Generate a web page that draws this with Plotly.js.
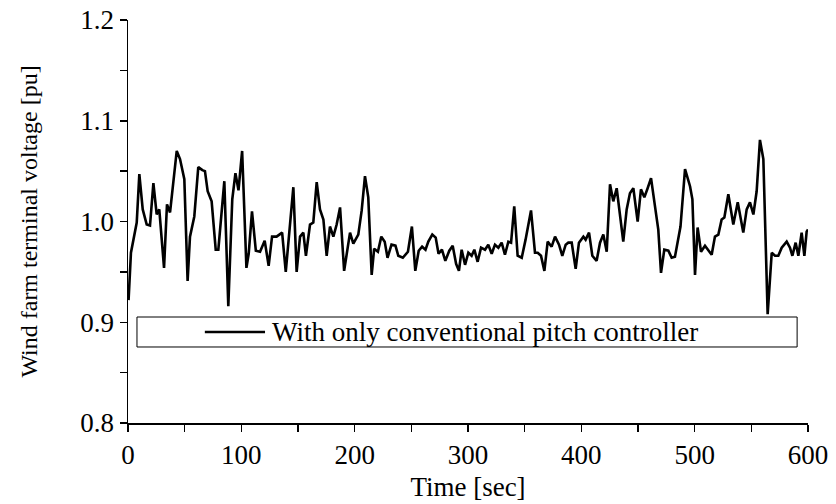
<!DOCTYPE html>
<html>
<head>
<meta charset="utf-8">
<script src="https://cdn.plot.ly/plotly-3.0.1.min.js"></script>
<style>html,body{margin:0;padding:0;background:#fff}#chart{width:836px;height:504px}</style>
</head>
<body>
<div id="chart"></div>
<script>
const timeSec = [0.5, 2.6, 7.7, 10, 13, 16.5, 19.4, 22.4, 25.3, 27.6, 31.8, 34.4, 37.1, 43, 45.9, 49.7, 52.6, 54.7, 58.5, 62, 65.6, 67.9, 70.3, 73.8, 77.4, 79.7, 85, 88.5, 92, 94.8, 97.5, 100.7, 104.5, 106.5, 109.4, 112.8, 116.5, 120.6, 124.1, 127.1, 131.1, 136, 139.2, 142.1, 145.9, 148.8, 151.8, 154.7, 157, 160.6, 163.5, 166.5, 169.4, 172.4, 175.3, 178.2, 181.2, 184.1, 187.1, 190.7, 193.2, 195.9, 198.8, 203.2, 206.2, 209.1, 212, 215, 217.2, 220.5, 223.5, 226.5, 229, 232.5, 236, 238.5, 242.5, 247, 250.5, 253.5, 256.5, 259.5, 262.5, 265, 268.5, 271.5, 274, 277, 280, 283.5, 286.5, 289.5, 292, 294.4, 297.4, 300.3, 303.2, 305.6, 308.5, 311.5, 315, 317.9, 320.9, 323.8, 326.8, 329.7, 332.6, 335.6, 338, 340.8, 343.8, 347.4, 350.8, 355.6, 359.1, 361.5, 364.4, 367.4, 370.3, 373.8, 376.8, 380.3, 383.2, 386.2, 388.5, 391.5, 395, 397.9, 401.8, 403.8, 406.8, 409.7, 413.5, 416.5, 419.4, 422.4, 425.3, 428.2, 431.2, 434.1, 437, 440, 442.9, 445.9, 449.7, 452.6, 455.6, 458.5, 461.5, 465, 467.9, 470.3, 473.2, 476.8, 479.7, 482.6, 485.6, 487.5, 491.5, 495.9, 498, 500.3, 502.6, 505.6, 509.1, 512, 515, 517.9, 520.9, 523.8, 526.2, 529.7, 532.1, 534.1, 538, 540.9, 542.9, 545.9, 548.8, 551.8, 554.7, 557.6, 560.6, 564.4, 568, 570.9, 573.8, 576.8, 581.2, 584.1, 586.2, 589.1, 591.5, 594.4, 596.8, 598.8, 600];
const voltagePu = [0.922, 0.969, 0.999, 1.047, 1.012, 0.997, 0.996, 1.038, 1.007, 1.012, 0.954, 1.017, 1.009, 1.070, 1.062, 1.042, 0.941, 0.985, 1.005, 1.054, 1.051, 1.050, 1.030, 1.020, 0.972, 0.972, 1.040, 0.916, 1.022, 1.048, 1.031, 1.070, 0.954, 0.968, 1.010, 0.971, 0.970, 0.981, 0.956, 0.985, 0.985, 0.989, 0.950, 0.985, 1.034, 0.950, 0.985, 0.989, 0.966, 0.997, 0.999, 1.039, 1.012, 1.002, 0.966, 0.995, 0.985, 0.997, 1.014, 0.951, 0.970, 0.989, 0.978, 0.987, 1.011, 1.045, 1.024, 0.947, 0.973, 0.970, 0.985, 0.980, 0.964, 0.977, 0.976, 0.966, 0.964, 0.970, 0.995, 0.951, 0.971, 0.975, 0.972, 0.980, 0.987, 0.984, 0.968, 0.972, 0.961, 0.971, 0.976, 0.958, 0.951, 0.972, 0.957, 0.969, 0.966, 0.972, 0.960, 0.974, 0.972, 0.977, 0.968, 0.977, 0.974, 0.979, 0.967, 0.980, 0.979, 1.015, 0.966, 0.964, 0.982, 1.011, 0.969, 0.969, 0.966, 0.951, 0.980, 0.975, 0.985, 0.977, 0.966, 0.977, 0.979, 0.979, 0.953, 0.979, 0.985, 0.982, 0.989, 0.966, 0.961, 0.979, 0.987, 0.970, 1.037, 1.020, 1.033, 1.005, 0.980, 1.012, 1.028, 1.033, 1.000, 1.032, 1.024, 1.033, 1.043, 1.015, 0.992, 0.949, 0.972, 0.971, 0.964, 0.965, 0.982, 0.995, 1.052, 1.035, 1.022, 0.947, 0.994, 0.970, 0.976, 0.972, 0.967, 0.985, 0.987, 1.002, 1.004, 1.027, 1.012, 0.997, 1.019, 1.002, 0.989, 1.012, 1.019, 1.007, 1.030, 1.081, 1.062, 0.908, 0.969, 0.966, 0.966, 0.974, 0.980, 0.974, 0.966, 0.979, 0.966, 0.989, 0.966, 0.990, 0.992];
const seriesName = "With only conventional pitch controller";
const xTickVals = [0, 50, 100, 150, 200, 250, 300, 350, 400, 450, 500, 550, 600];
const xTickText = ["0", "", "100", "", "200", "", "300", "", "400", "", "500", "", "600"];
const yTickVals = [0.8, 0.85, 0.9, 0.95, 1.0, 1.05, 1.1, 1.15, 1.2];
const yTickText = ["0.8", "", "0.9", "", "1.0", "", "1.1", "", "1.2"];

const serif = "Liberation Serif, Times New Roman, serif";

const trace = {
  x: timeSec, y: voltagePu, type: "scatter", mode: "lines",
  name: seriesName, showlegend: false,
  line: {color: "#000", width: 2.6}
};

const layout = {
  width: 836, height: 504,
  margin: {l: 128, r: 28, t: 20, b: 81},
  paper_bgcolor: "#fff", plot_bgcolor: "#fff",
  showlegend: false,
  font: {family: serif, color: "#000"},
  xaxis: {
    range: [0, 600], tickvals: xTickVals, ticktext: xTickText,
    showgrid: false, zeroline: false, showline: true, linecolor: "#000", linewidth: 1.5,
    ticks: "outside", ticklen: 7, tickwidth: 1.5, tickcolor: "#000",
    tickfont: {family: serif, size: 27, color: "#000"},
    title: {text: "Time [sec]", font: {family: serif, size: 27, color: "#000"}, standoff: 8},
    automargin: false, fixedrange: true
  },
  yaxis: {
    range: [0.8, 1.2], tickvals: yTickVals, ticktext: yTickText,
    showgrid: false, zeroline: false, showline: true, linecolor: "#000", linewidth: 1.5,
    ticks: "outside", ticklen: 7, tickwidth: 1.5, tickcolor: "#000",
    tickfont: {family: serif, size: 27, color: "#000"},
    title: {text: "Wind farm terminal voltage [pu]", font: {family: serif, size: 24, color: "#000"}, standoff: 36},
    automargin: false, fixedrange: true
  },
  shapes: [
    {type: "rect", xref: "paper", yref: "paper", x0: 0.0132, x1: 0.984, y0: 0.1886, y1: 0.263,
     line: {color: "#000", width: 1}, fillcolor: "#fff", layer: "above"},
    {type: "line", xref: "paper", yref: "paper", x0: 0.113, x1: 0.2015, y0: 0.2258, y1: 0.2258,
     line: {color: "#000", width: 2.6}, layer: "above"}
  ],
  annotations: [
    {text: seriesName, xref: "paper", yref: "paper", x: 0.2088, y: 0.2258,
     xanchor: "left", yanchor: "middle", showarrow: false,
     font: {family: serif, size: 27, color: "#000"}}
  ]
};

Plotly.newPlot("chart", [trace], layout, {staticPlot: true, displayModeBar: false});
</script>
</body>
</html>
